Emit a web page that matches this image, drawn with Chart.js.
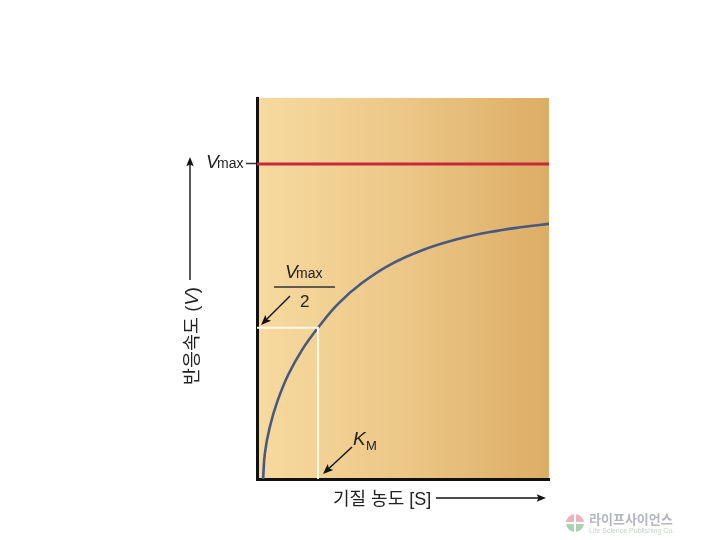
<!DOCTYPE html>
<html lang="ko"><head><meta charset="utf-8">
<style>html,body{margin:0;padding:0;background:#fff}canvas{display:block}</style>
<script src="https://cdn.jsdelivr.net/npm/chart.js@4"></script></head>
<body><canvas id="c" width="720" height="540"></canvas>
<script>
// Substrate concentration in units of KM, velocity in % of Vmax
const curveX = [0.10,0.13,0.21,0.33,0.51,0.74,1.0,1.33,1.72,2.18,2.72,3.28,3.82,4.36,4.79];
const curveY = [0,8.3,16.5,24.4,33,41,48,55.6,62.2,68,72.7,76.1,78.4,80,81];
const xMax = 4.79, yMax = 120.95;
const vmax = 100, vHalf = 48, km = 1;
const xTitle = '기질 농도 [S]', yTitle = '반응속도 (';

const LAT = '"Liberation Sans"', KR = LAT+',"Noto Sans CJK KR"';
function arrow(ctx,x1,y1,x2,y2,size){
  const a=Math.atan2(y2-y1,x2-x1);
  ctx.strokeStyle='#111';ctx.fillStyle='#111';ctx.lineWidth=1.4;
  ctx.beginPath();ctx.moveTo(x1,y1);ctx.lineTo(x2-Math.cos(a)*size*.7,y2-Math.sin(a)*size*.7);ctx.stroke();
  ctx.beginPath();ctx.moveTo(x2,y2);
  ctx.lineTo(x2-size*Math.cos(a-.38),y2-size*Math.sin(a-.38));
  ctx.lineTo(x2-size*.75*Math.cos(a),y2-size*.75*Math.sin(a));
  ctx.lineTo(x2-size*Math.cos(a+.38),y2-size*Math.sin(a+.38));
  ctx.closePath();ctx.fill();
}
function text(ctx,s,x,y,font,color,align){
  ctx.font=font;ctx.fillStyle=color||'#222';ctx.textAlign=align||'left';ctx.textBaseline='alphabetic';ctx.fillText(s,x,y);
}
const deco = {
  id:'deco',
  beforeDraw(chart){
    const {ctx,chartArea:a}=chart;
    const g=ctx.createLinearGradient(a.left,0,a.right,0);
    g.addColorStop(0,'#f7da9f');g.addColorStop(.5,'#ecc787');g.addColorStop(1,'#dcad65');
    ctx.save();ctx.fillStyle=g;ctx.fillRect(a.left,a.top,a.right-a.left,a.bottom-a.top);ctx.restore();
  },
  afterDraw(chart){
    const ctx=chart.ctx;ctx.save();
    // Vmax label
    text(ctx,'V',206,168,'italic 19px '+LAT);
    text(ctx,'max',217,168,'14px '+LAT);
    // Vmax / 2
    text(ctx,'V',285,278,'italic 19px '+LAT);
    text(ctx,'max',296,278,'14px '+LAT);
    ctx.strokeStyle='#333';ctx.lineWidth=1.4;ctx.beginPath();ctx.moveTo(274,287);ctx.lineTo(335,287);ctx.stroke();
    text(ctx,'2',300,307,'17px '+LAT);
    arrow(ctx,290,296,261,325,11);
    // KM
    text(ctx,'K',353,445,'italic 19px '+LAT);
    text(ctx,'M',366,450,'13px '+LAT);
    arrow(ctx,352,447,323,474,11);
    // x title + arrow
    text(ctx,xTitle,333,505,'18px '+KR);
    arrow(ctx,436,498,546,498,10);
    // y title + arrow
    ctx.save();ctx.translate(198,385);ctx.rotate(-Math.PI/2);
    text(ctx,yTitle,0,0,'18.5px '+KR);
    let w=ctx.measureText(yTitle).width;
    text(ctx,'V',w,0,'italic 18.5px '+LAT);
    let w2=ctx.measureText('V').width;
    text(ctx,')',w+w2,0,'18.5px '+KR);
    ctx.restore();
    arrow(ctx,190,280,190,157,10);
    // publisher mark
    ctx.save();ctx.beginPath();ctx.arc(575,523,9,Math.PI,0);ctx.fillStyle='#eeb4bb';ctx.fill();
    ctx.beginPath();ctx.arc(575,523,9,0,Math.PI);ctx.fillStyle='#a9d3b0';ctx.fill();
    ctx.fillStyle='#fff';ctx.fillRect(574,514,2,18);ctx.fillRect(566,522,18,2);ctx.restore();
    text(ctx,'라이프사이언스',589,524,'bold 13px "Noto Sans CJK KR"','#b4b4c2');
    text(ctx,'Life Science Publishing Co.',589,533,'7px '+LAT,'#c9cfc9');
    ctx.restore();
  }
};
new Chart(document.getElementById('c'),{
  type:'line',
  data:{datasets:[
    {label:'Vmax/2, KM guide',data:[{x:0,y:vHalf},{x:km,y:vHalf},{x:km,y:0}],borderColor:'#fff8ec',borderWidth:2,pointRadius:0,tension:0},
    {label:'Vmax',data:[{x:0,y:vmax},{x:xMax,y:vmax}],borderColor:'#c42a3c',borderWidth:3,pointRadius:0,tension:0},
    {label:'V',data:curveX.map((x,i)=>({x,y:curveY[i]})),borderColor:'#47597e',borderWidth:2.6,pointRadius:0,tension:0.4}
  ]},
  options:{
    responsive:false,animation:false,
    layout:{padding:{top:98,right:171,left:0,bottom:0}},
    plugins:{legend:{display:false},tooltip:{enabled:false},title:{display:false}},
    scales:{
      x:{type:'linear',min:0,max:xMax,
        afterFit(s){s.height=61;},
        border:{color:'#111',width:3},
        grid:{display:false},ticks:{display:false}},
      y:{type:'linear',min:0,max:yMax,
        afterFit(s){s.width=257;},
        afterBuildTicks(s){s.ticks=[{value:vmax}];},
        border:{color:'#111',width:3},
        grid:{drawOnChartArea:false,drawTicks:true,tickLength:11,tickColor:'#333',tickWidth:1.5},
        ticks:{display:false}}
    }
  },
  plugins:[deco]
});
</script></body></html>
